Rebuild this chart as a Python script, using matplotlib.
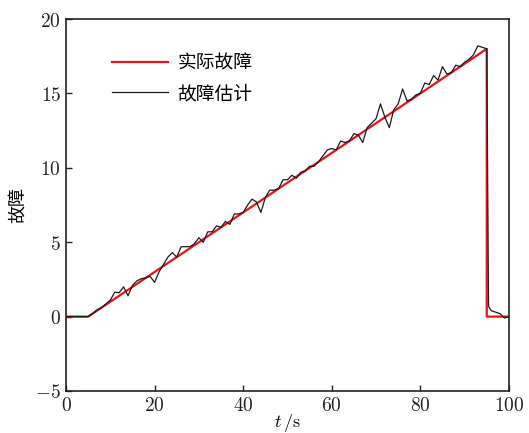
import numpy as np
import matplotlib
matplotlib.use("Agg")
import matplotlib.pyplot as plt
from matplotlib.ticker import FuncFormatter

# =========================
# DATA
# =========================
# actual fault (piecewise)
t_true = [0, 5, 95, 95, 100]
f_true = [0, 0, 18, 0, 0]

# estimated fault
t_est = list(range(0, 96)) + [95.4, 96, 97, 98, 99, 100]
f_est = [0, 0, 0, 0, 0,
         0.0, 0.2, 0.45, 0.6, 0.85, 1.1, 1.65, 1.6, 2.0, 1.4,
         2.1, 2.4, 2.55, 2.6, 2.7, 2.3, 3.0, 3.5, 4.0, 4.3,
         4.0, 4.7, 4.7, 4.7, 4.9, 5.3, 5.0, 5.7, 5.7, 6.1,
         6.0, 6.4, 6.2, 6.9, 6.9, 7.0, 7.5, 7.9, 7.7, 7.0,
         8.0, 8.5, 8.5, 8.6, 9.2, 9.2, 9.5, 9.3, 9.7, 9.8,
         10.1, 10.1, 10.4, 10.8, 11.2, 11.3, 11.2, 11.8, 11.7, 11.8,
         12.3, 12.2, 11.7, 12.7, 13.0, 13.3, 14.3, 13.4, 12.7, 13.9,
         14.3, 15.3, 14.5, 14.6, 14.9, 15.0, 15.7, 15.6, 16.2, 15.9,
         16.8, 16.3, 16.4, 16.9, 16.8, 17.1, 17.3, 17.6, 18.2, 18.1,
         18.0,
         0.7, 0.4, 0.3, 0.2, -0.1, 0.0]

labels = ["实际故障", "故障估计"]
x_ticks = [0, 20, 40, 60, 80, 100]
y_ticks = [-5, 0, 5, 10, 15, 20]

# =========================
# PLOT
# =========================
plt.rcParams['mathtext.fontset'] = 'cm'
cjk = ['Noto Sans CJK SC', 'DejaVu Sans']

fig = plt.figure(figsize=(5.29, 4.33), dpi=100)
ax = fig.add_axes([0.1248, 0.097, 0.8372, 0.859])

ax.plot(t_true, f_true, color='#e8141c', lw=1.6, label=labels[0], zorder=2)
ax.plot(t_est, f_est, color='#1a1a1a', lw=0.9, label=labels[1], zorder=3)

ax.set_xlim(0, 100)
ax.set_ylim(-5, 20)
ax.set_xticks(x_ticks)
ax.set_yticks(y_ticks)
fmt = FuncFormatter(lambda v, p: r'$%d$' % v)
ax.xaxis.set_major_formatter(fmt)
ax.yaxis.set_major_formatter(fmt)
ax.tick_params(direction='in', length=4, width=1, labelsize=14, colors='#222222')
for s in ax.spines.values():
    s.set_linewidth(1.2)
    s.set_color('#222222')

ax.set_xlabel(r'$t\,/\mathrm{s}$', fontsize=13, labelpad=-2)
ax.set_ylabel("故障", family=cjk, fontsize=13, labelpad=6)

leg = ax.legend(loc='upper left', bbox_to_anchor=(0.065, 0.955), frameon=False,
                prop={'family': cjk, 'size': 13.5}, handlelength=3.0,
                handletextpad=0.5, labelspacing=0.5)

plt.savefig("out.png", dpi=100)
plt.close()
